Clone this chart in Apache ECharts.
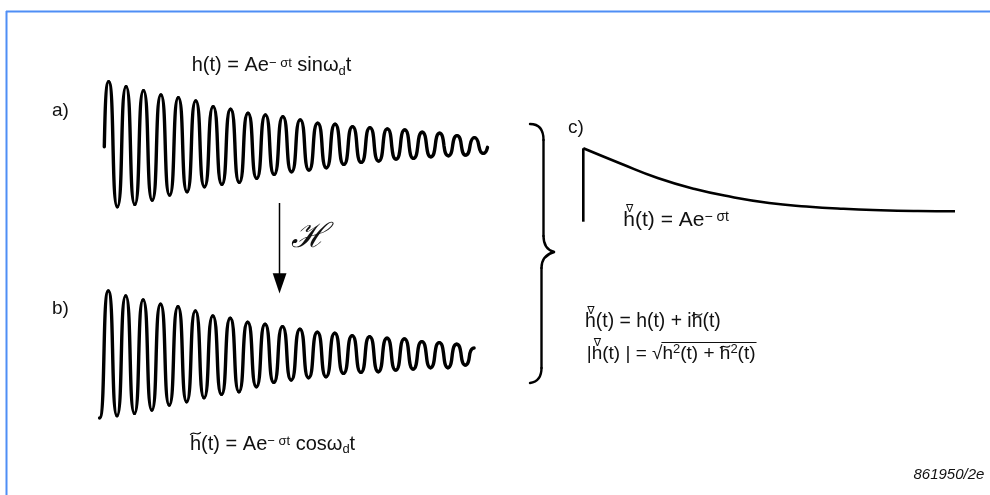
<!DOCTYPE html>
<html>
<head>
<meta charset="utf-8">
<script src="https://cdn.jsdelivr.net/npm/echarts@6/dist/echarts.min.js"></script>
<style>
  html, body { margin: 0; padding: 0; background: #ffffff; }
  #chart { width: 990px; height: 495px; }
</style>
</head>
<body>
<div id="chart"></div>
<script>
// a) h(t) = A e^-σt sin ωd t : height of each crest and trough, cycle by cycle
const sinPeaks   = [63.9, 58.9, 54.9, 50.6, 47.9, 44.6, 38.9, 36.2, 32.2, 30.6, 28.9,
                    25.6, 22.2, 21.2, 18.9, 17.9, 16.6, 15.6, 13.2, 12.2, 9.9, 7.9];
const sinTroughs = [-61.2, -58.9, -54.6, -49.6, -46.2, -41.2, -38.9, -36.9, -32.9, -28.9, -26.2,
                    -24.6, -22.2, -18.9, -16.9, -15.6, -13.6, -12.9, -11.2, -10.2, -9.6, -7.9];
const sinStart = -1.2;
const sinEnd = -1.8;

// b) h~(t) = A e^-σt cos ωd t : crests and troughs
const cosPeaks   = [63.1, 58.1, 54.1, 49.7, 47.4, 43.1, 38.1, 35.7, 31.7, 29.7, 27.4,
                    24.7, 21.7, 20.7, 18.4, 17.4, 15.7, 15.1, 12.4, 11.4, 9.7];
const cosTroughs = [-61.7, -59.4, -56.1, -51.1, -47.7, -43.7, -40.4, -37.7, -32.7, -28.4, -26.1,
                    -23.7, -22.7, -19.4, -18.4, -17.7, -16.1, -15.1, -13.7, -13.7, -11.1];
const cosStart = -64;
const cosEnd = 6;

// c) envelope A e^-σt sampled along t
const envT   = [0, 1, 2, 3, 4, 5, 6, 7, 8, 9, 10];
const envAmp = [81.7, 66.5, 52, 41, 33, 27, 23.5, 21.2, 19.8, 19, 18.7];
const envBase = 8.3;

// labels
const panelLabels = ['a)', 'b)', 'c)'];
const figureCode = '861950/2e';
const hilbertSymbol = 'ℋ';

// --- extremum lists [t, value, isCrossing]; crests sit a quarter period from the crossings
function sinExtrema() {
  const pts = [[0, sinStart, 1]];
  for (let k = 0; k < sinPeaks.length; k++) {
    pts.push([k + 0.25, sinPeaks[k], 0]);
    pts.push([k + 0.75, sinTroughs[k], 0]);
  }
  pts.push([sinPeaks.length, sinEnd, 1]);
  return pts;
}
function cosExtrema() {
  const pts = [[-0.5, cosStart, 0]];
  for (let k = 0; k < cosPeaks.length; k++) {
    pts.push([k, cosPeaks[k], 0]);
    pts.push([k + 0.5, cosTroughs[k], 0]);
  }
  pts.push([cosPeaks.length, cosEnd, 0]);
  return pts;
}

// each item draws the stroke from the previous extremum to itself:
// flat tangent at the crest, steep tangent through the midline
const ARCH_A = 0.15, ARCH_B = 0.45, ARCH_G = 0.72;
function renderWave(params, api) {
  const i = params.dataIndexInside;
  if (i === 0) return { type: 'group', children: [] };
  const p = api.coord([api.value(0, i - 1), api.value(1, i - 1)]);
  const c = api.coord([api.value(0, i), api.value(1, i)]);
  const pCross = api.value(2, i - 1) === 1, cCross = api.value(2, i) === 1;
  const zy = api.coord([0, 0])[1];
  const f = v => v.toFixed(2);
  let d = 'M' + f(p[0]) + ',' + f(p[1]);
  if (pCross) {
    const q = c[0] - p[0];
    d += ' C' + f(p[0] + ARCH_A * q) + ',' + f(p[1] + ARCH_B * (c[1] - p[1])) + ' ' +
         f(c[0] - ARCH_G * q) + ',' + f(c[1]) + ' ' + f(c[0]) + ',' + f(c[1]);
  } else if (cCross) {
    const q = c[0] - p[0];
    d += ' C' + f(p[0] + ARCH_G * q) + ',' + f(p[1]) + ' ' +
         f(c[0] - ARCH_A * q) + ',' + f(c[1] + ARCH_B * (p[1] - c[1])) + ' ' + f(c[0]) + ',' + f(c[1]);
  } else {
    const q = (c[0] - p[0]) / 2, zx = (p[0] + c[0]) / 2;
    d += ' C' + f(p[0] + ARCH_G * q) + ',' + f(p[1]) + ' ' +
         f(zx - ARCH_A * q) + ',' + f(zy + ARCH_B * (p[1] - zy)) + ' ' + f(zx) + ',' + f(zy);
    d += ' C' + f(zx + ARCH_A * q) + ',' + f(zy + ARCH_B * (c[1] - zy)) + ' ' +
         f(c[0] - ARCH_G * q) + ',' + f(c[1]) + ' ' + f(c[0]) + ',' + f(c[1]);
  }
  return {
    type: 'path', silent: true,
    shape: { pathData: d },
    style: { stroke: '#000', lineWidth: 3.4, fill: null, lineCap: 'round', lineJoin: 'round' }
  };
}

// --- formula typesetting helpers
const FONT = 'Liberation Sans';
const INK = '#111111';
const measureCtx = document.createElement('canvas').getContext('2d');
function textWidth(t, size, family, style) {
  measureCtx.font = (style ? style + ' ' : '') + size + 'px "' + (family || FONT) + '"';
  return measureCtx.measureText(t).width;
}
function textEl(t, x, baseline, size, opts) {
  opts = opts || {};
  return {
    type: 'text', silent: true,
    x: x, y: baseline - 0.33 * size,
    style: {
      text: t, fontSize: size, fontFamily: opts.family || FONT,
      fontStyle: opts.style || 'normal',
      fill: INK, align: opts.align || 'left', verticalAlign: 'middle'
    }
  };
}
function formula(x0, base, runs, S) {
  const SS = Math.round(S * 0.66);
  const els = [];
  let x = x0, rootX = null;
  for (const r of runs) {
    const t = r[0], kind = r[1], off = r[2];
    if (kind === 'nabla') {
      const cx = x + textWidth('h', S) / 2 + 0.5;
      els.push({
        type: 'text', silent: true, x: cx, y: base - off,
        style: { text: '∇', fontSize: 11, fontFamily: 'DejaVu Sans', fill: INK,
                 align: 'center', verticalAlign: 'middle' }
      });
      continue;
    }
    if (kind === 'tilde') {
      const hw = textWidth('h', S);
      const cx = x + hw / 2, cy = base - off, half = hw * 0.48;
      els.push({
        type: 'bezierCurve', silent: true,
        shape: { x1: cx - half, y1: cy + 1.3, cpx1: cx - half * 0.3, cpy1: cy - 3.6,
                 cpx2: cx + half * 0.3, cpy2: cy + 3.6, x2: cx + half, y2: cy - 1.3 },
        style: { stroke: INK, lineWidth: 1.2, fill: null }
      });
      continue;
    }
    if (kind === 'rootOn') { rootX = x - 1; continue; }
    if (kind === 'rootOff') {
      els.push({
        type: 'line', silent: true,
        shape: { x1: rootX, y1: base - off, x2: x + 1, y2: base - off },
        style: { stroke: INK, lineWidth: 1 }
      });
      continue;
    }
    let size = S, dy = 0;
    if (kind === 'p') { size = SS; dy = -(off || 6); }
    if (kind === 'b') { size = SS; dy = off || 3; }
    els.push(textEl(t, x, base + dy, size));
    x += textWidth(t, size);
  }
  return els;
}

// curved bracket built from cubic segments and straight runs
function bracePieces(segs) {
  return segs.map(s => s.length === 4
    ? { type: 'line', silent: true, shape: { x1: s[0], y1: s[1], x2: s[2], y2: s[3] },
        style: { stroke: '#000', lineWidth: 2.4, lineCap: 'round' } }
    : { type: 'bezierCurve', silent: true,
        shape: { x1: s[0], y1: s[1], cpx1: s[2], cpy1: s[3], cpx2: s[4], cpy2: s[5], x2: s[6], y2: s[7] },
        style: { stroke: '#000', lineWidth: 2.4, fill: null, lineCap: 'round' } });
}

const formulaA = [['h(t) = Ae', 'n'], ['− σt', 'p', 5], [' sinω', 'n'], ['d', 'b', 3], ['t', 'n']];
const formulaB = [['~', 'tilde', 17.5], ['h(t) = Ae', 'n'], ['− σt', 'p', 5], [' cosω', 'n'], ['d', 'b', 3], ['t', 'n']];
const formulaC = [['∇', 'nabla', 17.5], ['h(t) = Ae', 'n'], ['− σt', 'p', 5]];
const formulaD = [['∇', 'nabla', 17.5], ['h(t) = h(t) + i', 'n'], ['~', 'tilde', 13.5], ['h(t)', 'n']];
const formulaE = [['|', 'n'], ['∇', 'nabla', 16.5], ['h(t) | = ', 'n'], ['√', 'n'], ['', 'rootOn'],
                  ['h', 'n'], ['2', 'p', 6.5], ['(t) + ', 'n'], ['~', 'tilde', 13], ['h', 'n'],
                  ['2', 'p', 6.5], ['(t)', 'n'], ['', 'rootOff', 17.3]];

const graphics = [].concat(
  // frame
  [
    { type: 'line', silent: true, shape: { x1: 6, y1: 11.5, x2: 990, y2: 11.5 },
      style: { stroke: '#4f8ef5', lineWidth: 2 } },
    { type: 'line', silent: true, shape: { x1: 6.5, y1: 11, x2: 6.5, y2: 495 },
      style: { stroke: '#4f8ef5', lineWidth: 2 } }
  ],
  formula(191.7, 72.5, formulaA, 20),
  formula(190, 451, formulaB, 20),
  formula(623.3, 226.7, formulaC, 21),
  formula(585, 328.3, formulaD, 19.4),
  formula(586.7, 359.8, formulaE, 19),
  [
    textEl(panelLabels[0], 52, 117, 19),
    textEl(panelLabels[1], 52, 315, 19),
    textEl(panelLabels[2], 568, 134.5, 19),
    textEl(figureCode, 913.5, 480, 15, { style: 'italic' }),
    // Hilbert transform arrow
    { type: 'line', silent: true, shape: { x1: 279.5, y1: 203, x2: 279.5, y2: 276 },
      style: { stroke: '#000', lineWidth: 1.5 } },
    { type: 'polygon', silent: true,
      shape: { points: [[272.7, 273.3], [286.5, 273.3], [279.5, 293.5]] },
      style: { fill: '#000' } },
    { type: 'text', silent: true, x: 309, y: 238,
      style: { text: hilbertSymbol, fontSize: 34, fontFamily: 'DejaVu Serif', fontStyle: 'italic',
               fill: INK, align: 'center', verticalAlign: 'middle' } }
  ],
  // brace joining a) and b) to c)
  bracePieces([
    [530, 124, 539, 124, 543.5, 130, 543.5, 140],
    [543.5, 140, 543.5, 236],
    [543.5, 236, 543.5, 245, 547, 250, 554, 252],
    [554, 252, 547, 254, 541.5, 259, 541.5, 268],
    [541.5, 268, 541.5, 368],
    [541.5, 368, 541.5, 377, 537, 382, 530, 383]
  ])
);

const hidden = { show: false };

const option = {
  animation: false,
  backgroundColor: '#ffffff',
  grid: [
    { left: 104.3, top: 65.5, width: 383.2, height: 160, containLabel: false },
    { left: 99.6, top: 274, width: 374.5, height: 160, containLabel: false },
    { left: 583.3, top: 130, width: 371.7, height: 100, containLabel: false }
  ],
  xAxis: [
    Object.assign({ type: 'value', gridIndex: 0, min: 0, max: sinPeaks.length }, hidden),
    Object.assign({ type: 'value', gridIndex: 1, min: -0.5, max: cosPeaks.length }, hidden),
    Object.assign({ type: 'value', gridIndex: 2, min: envT[0], max: envT[envT.length - 1] }, hidden)
  ],
  yAxis: [
    Object.assign({ type: 'value', gridIndex: 0, min: -80, max: 80 }, hidden),
    Object.assign({ type: 'value', gridIndex: 1, min: -80, max: 80 }, hidden),
    Object.assign({ type: 'value', gridIndex: 2, min: 0, max: 100 }, hidden)
  ],
  series: [
    { type: 'custom', xAxisIndex: 0, yAxisIndex: 0, data: sinExtrema(), renderItem: renderWave,
      encode: { x: 0, y: 1 }, clip: false, silent: true },
    { type: 'custom', xAxisIndex: 1, yAxisIndex: 1, data: cosExtrema(), renderItem: renderWave,
      encode: { x: 0, y: 1 }, clip: false, silent: true },
    { type: 'line', xAxisIndex: 2, yAxisIndex: 2, data: [[envT[0], envBase], [envT[0], envAmp[0]]],
      showSymbol: false, clip: false, silent: true, lineStyle: { color: '#000', width: 2.6 } },
    { type: 'line', xAxisIndex: 2, yAxisIndex: 2, data: envT.map((t, i) => [t, envAmp[i]]),
      smooth: 0.5, showSymbol: false, clip: false, silent: true,
      lineStyle: { color: '#000', width: 2.6 } }
  ],
  graphic: graphics
};

const chart = echarts.init(document.getElementById('chart'), null, { renderer: 'canvas' });
chart.setOption(option);
</script>
</body>
</html>
